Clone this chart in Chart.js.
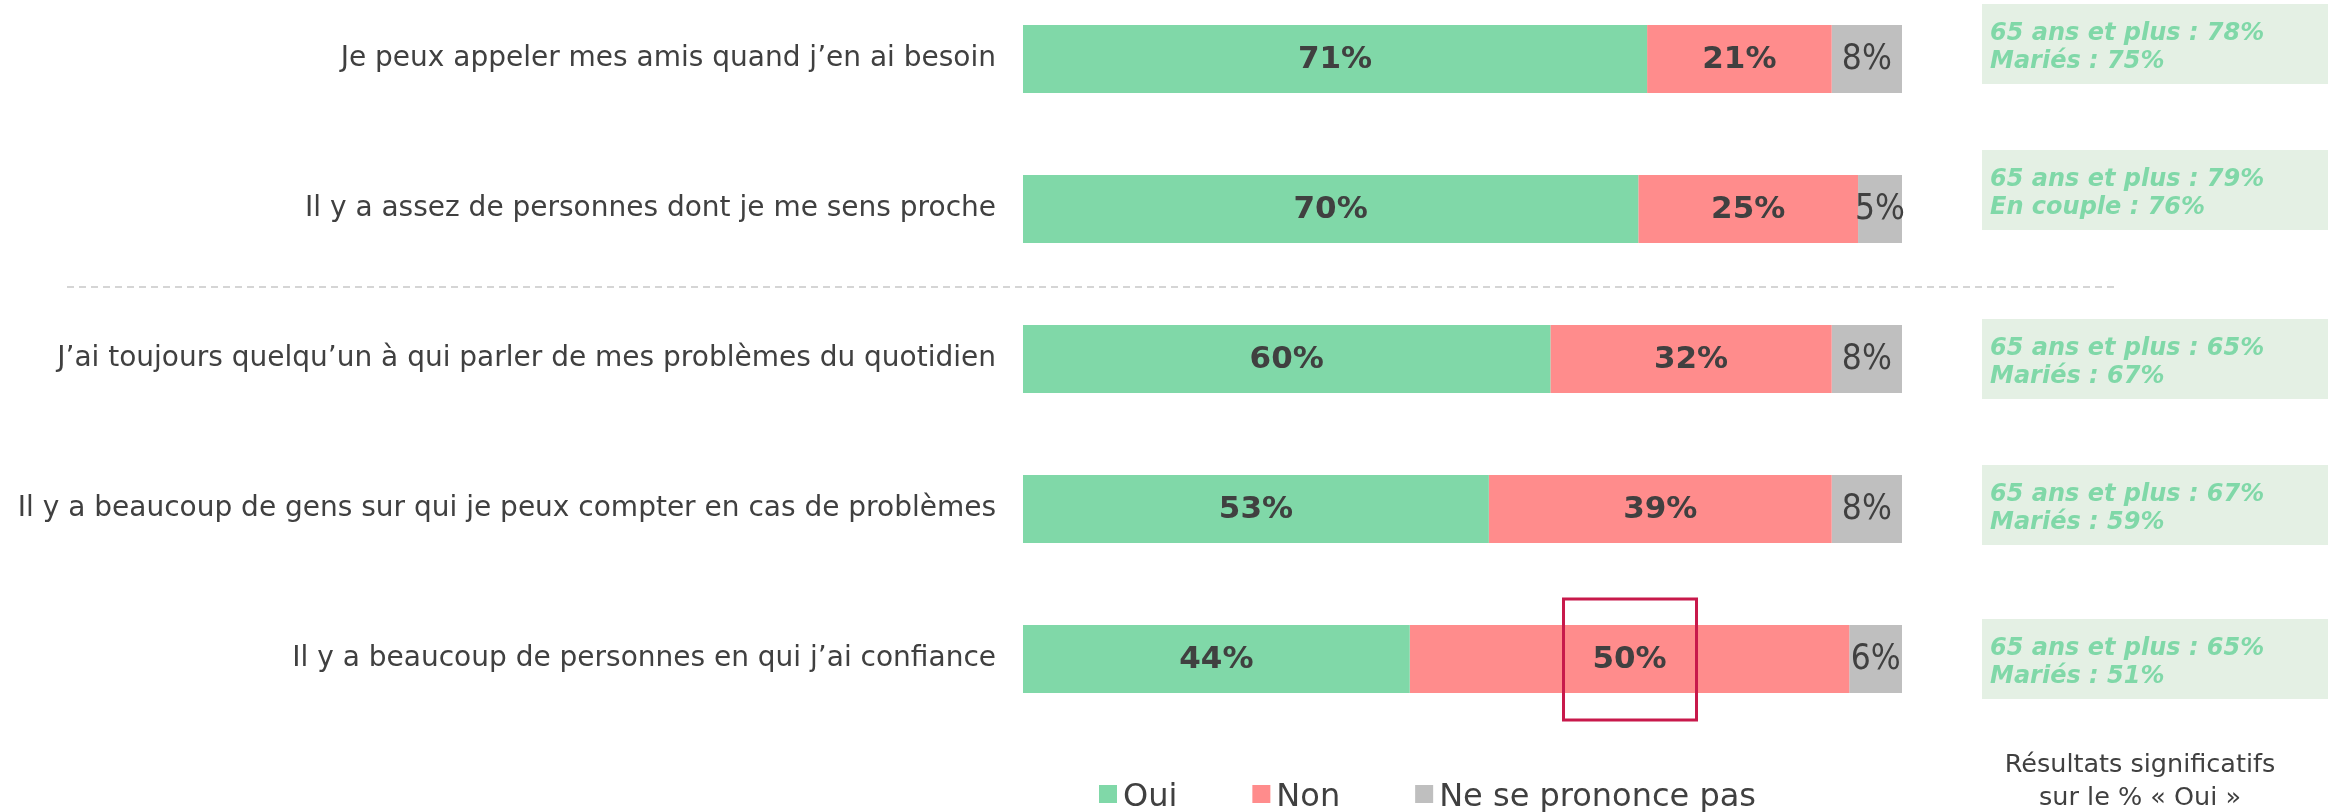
<!DOCTYPE html>
<html>
<head>
<meta charset="utf-8">
<script src="https://cdn.jsdelivr.net/npm/chart.js@4.4.0/dist/chart.umd.min.js"></script>
<style>
  html, body { margin: 0; padding: 0; background: #fff; }
  #wrap { width: 2328px; height: 812px; position: relative; }
</style>
</head>
<body>
<div id="wrap"><canvas id="chart" width="2328" height="812"></canvas></div>
<script>
// data
var categories = [
  'Je peux appeler mes amis quand j\u2019en ai besoin',
  'Il y a assez de personnes dont je me sens proche',
  'J\u2019ai toujours quelqu\u2019un \u00e0 qui parler de mes probl\u00e8mes du quotidien',
  'Il y a beaucoup de gens sur qui je peux compter en cas de probl\u00e8mes',
  'Il y a beaucoup de personnes en qui j\u2019ai confiance'
];
var oui = [71, 70, 60, 53, 44];
var non = [21, 25, 32, 39, 50];
var nsp = [8, 5, 8, 8, 6];
var seriesNames = ['Oui', 'Non', 'Ne se prononce pas'];

// "significant results" side boxes
var age65 = ['78%', '79%', '65%', '67%', '65%'];
var groupNames = ['Mari\u00e9s', 'En couple', 'Mari\u00e9s', 'Mari\u00e9s', 'Mari\u00e9s'];
var groupValues = ['75%', '76%', '67%', '59%', '51%'];
var footnote = ['R\u00e9sultats significatifs', 'sur le % \u00ab Oui \u00bb'];

var GREEN = '#80D8A8', RED = '#FF8C8C', GREY = '#BFBFBF', TEXT = '#404040';
var FONT = "'DejaVu Sans', Verdana, sans-serif";
var NARROW = "'Liberation Sans Narrow', 'DejaVu Sans Condensed', sans-serif";

var extras = {
  id: 'extras',
  afterDraw: function(chart) {
    var ctx = chart.ctx;
    var ys = chart.scales.y;
    ctx.save();

    // value labels inside segments
    chart.data.datasets.forEach(function(ds, di) {
      var meta = chart.getDatasetMeta(di);
      meta.data.forEach(function(el, i) {
        var cx = (el.x + el.base) / 2;
        ctx.fillStyle = TEXT;
        ctx.textAlign = 'center';
        ctx.textBaseline = 'middle';
        if (di === 2) {
          ctx.font = '35px ' + NARROW;
        } else {
          ctx.font = 'bold 31px ' + FONT;
        }
        ctx.fillText(ds.data[i] + '%', cx, el.y + 1);
      });
    });

    // dashed separator between 2nd and 3rd rows
    var sepY = (ys.getPixelForValue(1) + ys.getPixelForValue(2)) / 2 + 3;
    ctx.strokeStyle = '#C8C8C8';
    ctx.lineWidth = 1.5;
    ctx.setLineDash([7, 5]);
    ctx.beginPath();
    ctx.moveTo(67, sepY);
    ctx.lineTo(2117, sepY);
    ctx.stroke();
    ctx.setLineDash([]);

    // highlight box on the last "Non" value
    var hl = chart.getDatasetMeta(1).data[4];
    var hx = (hl.x + hl.base) / 2;
    ctx.strokeStyle = '#C8194B';
    ctx.lineWidth = 3;
    ctx.strokeRect(hx - 66, hl.y - 60, 133, 121);

    // side boxes
    var shift = [-15, -19, 0, -4, 0];
    categories.forEach(function(c, i) {
      var top = ys.getPixelForValue(i) + shift[i] - 40;
      ctx.fillStyle = '#E4F0E4';
      ctx.fillRect(1982, top, 346, 80);
      ctx.fillStyle = GREEN;
      ctx.font = 'italic bold 24px ' + FONT;
      ctx.textAlign = 'left';
      ctx.textBaseline = 'alphabetic';
      ctx.fillText('65 ans et plus : ' + age65[i], 1990, top + 36);
      ctx.fillText(groupNames[i] + ' : ' + groupValues[i], 1990, top + 64);
    });

    // legend
    var lx = 1099;
    ctx.font = '32px ' + FONT;
    chart.data.datasets.forEach(function(ds) {
      ctx.fillStyle = ds.backgroundColor;
      ctx.fillRect(lx, 785, 18, 18);
      ctx.fillStyle = TEXT;
      ctx.textAlign = 'left';
      ctx.textBaseline = 'alphabetic';
      ctx.fillText(ds.label, lx + 24, 806);
      lx += 24 + ctx.measureText(ds.label).width + 75;
    });

    // footnote
    ctx.font = '25.5px ' + FONT;
    ctx.textAlign = 'center';
    ctx.fillStyle = TEXT;
    ctx.fillText(footnote[0], 2140, 772);
    ctx.fillText(footnote[1], 2140, 805);

    ctx.restore();
  }
};

new Chart(document.getElementById('chart'), {
  type: 'bar',
  data: {
    labels: categories,
    datasets: [
      { label: seriesNames[0], data: oui, backgroundColor: GREEN },
      { label: seriesNames[1], data: non, backgroundColor: RED },
      { label: seriesNames[2], data: nsp, backgroundColor: GREY }
    ]
  },
  options: {
    indexAxis: 'y',
    responsive: false,
    animation: false,
    devicePixelRatio: 1,
    layout: { padding: { left: 0, right: 426, top: 59, bottom: 153 } },
    datasets: {
      bar: { barPercentage: 0.453, categoryPercentage: 1, borderWidth: 0, clip: false }
    },
    plugins: {
      legend: { display: false },
      tooltip: { enabled: false }
    },
    scales: {
      x: { stacked: true, min: 0, max: 100, display: false },
      y: {
        stacked: true,
        offset: false,
        grid: { display: false, drawTicks: false },
        border: { display: false },
        ticks: { color: TEXT, font: { family: FONT, size: 28 }, padding: 27 },
        afterFit: function(scale) { scale.width = 1023; }
      }
    }
  },
  plugins: [extras]
});
</script>
</body>
</html>
